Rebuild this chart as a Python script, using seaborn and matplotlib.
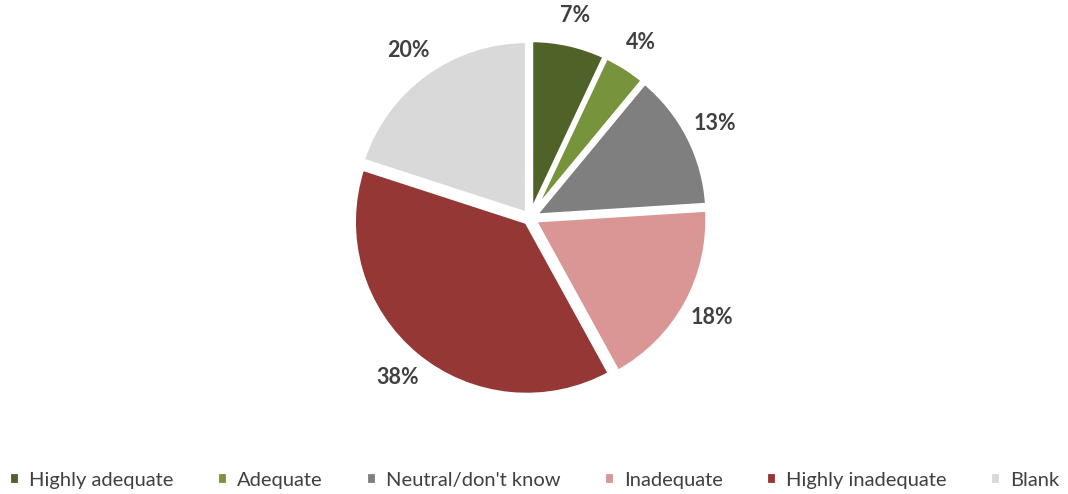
import matplotlib
matplotlib.use("Agg")
import matplotlib.pyplot as plt
import seaborn as sns

sns.set_style("white")
plt.rcParams['font.family'] = ['Lato', 'DejaVu Sans']

categories = ["Highly adequate", "Adequate", "Neutral/don't know", "Inadequate", "Highly inadequate", "Blank"]
values = [7, 4, 13, 18, 38, 20]
colors = ["#4F6228", "#77933C", "#7F7F7F", "#D99694", "#953735", "#D9D9D9"]

fig = plt.figure(figsize=(10.68, 4.94), dpi=100)
r_px = 178
cx, cy = 530, 218
W, H = 1068, 494
ax = fig.add_axes([(cx - r_px) / W, (H - cy - r_px) / H, 2 * r_px / W, 2 * r_px / H])

wedges, texts, autotexts = ax.pie(
    values, colors=colors, startangle=90, counterclock=False,
    explode=[0.03] * len(values),
    autopct=lambda p: f"{p:.0f}%", pctdistance=1.17,
    wedgeprops=dict(linewidth=3, edgecolor="white"),
    textprops=dict(fontsize=15.5, fontweight="bold", color="#404040"),
)
ax.set_xlim(-1.03, 1.03)
ax.set_ylim(-1.03, 1.03)
ax.set_aspect("equal")
for w in wedges:
    w.set_clip_on(False)

leg = fig.legend(wedges, categories, loc="center", bbox_to_anchor=(0.5, 0.028),
                 ncol=6, frameon=False, fontsize=14.5, handlelength=0.55, handleheight=0.55,
                 handletextpad=0.45, columnspacing=2.15)
for t in leg.get_texts():
    t.set_color("#404040")

fig.savefig("out.png", dpi=100)
